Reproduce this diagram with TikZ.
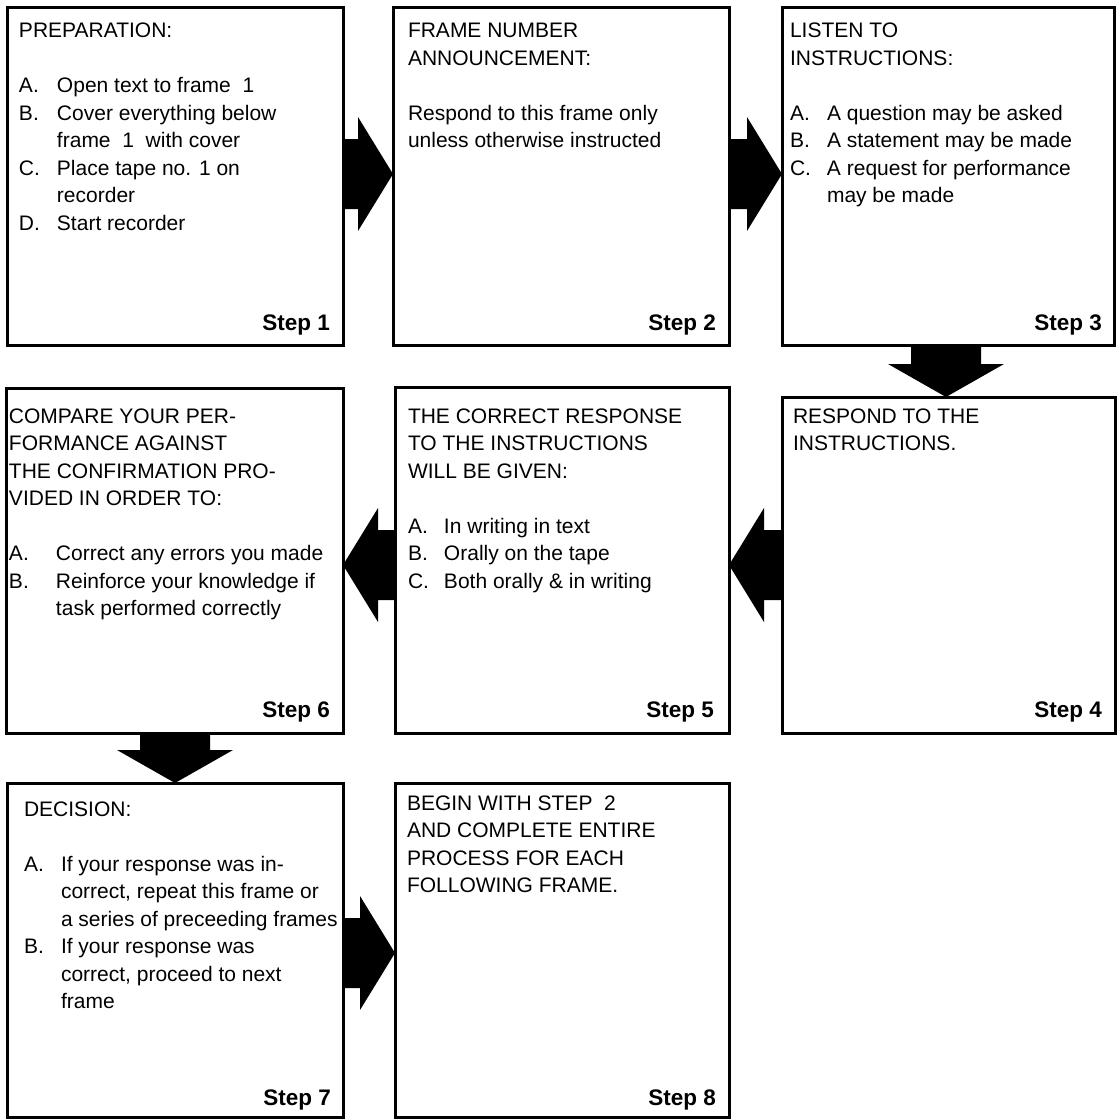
\documentclass[tikz,border=0pt]{standalone}
\usepackage{fontspec}
\setmainfont{Liberation Sans}
\usepackage{array}
\usetikzlibrary{calc}

\newcommand\bodysize{\fontsize{21}{27.5}\selectfont}
\newcommand\stepsize{\fontsize{22.5}{27}\selectfont\bfseries}

% right-pointing arrow: from box #1 to box #2 at height #3 (px)
\newcommand\arrowR[3]{%
  \fill[arr] let \p1=(#1.east), \p2=(#2.west), \p3=(0,#3) in
   (\x1,\y3+35pt) -- (\x2-35pt,\y3+35pt) -- (\x2-35pt,\y3+57pt) -- (\x2,\y3)
   -- (\x2-35pt,\y3-57pt) -- (\x2-35pt,\y3-35pt) -- (\x1,\y3-35pt) -- cycle;}
% left-pointing arrow: from box #1 to box #2 (on its left) at height #3
\newcommand\arrowL[3]{%
  \fill[arr] let \p1=(#1.west), \p2=(#2.east), \p3=(0,#3) in
   (\x1,\y3+35pt) -- (\x2+35pt,\y3+35pt) -- (\x2+35pt,\y3+57pt) -- (\x2,\y3)
   -- (\x2+35pt,\y3-57pt) -- (\x2+35pt,\y3-35pt) -- (\x1,\y3-35pt) -- cycle;}
% down-pointing arrow: from box #1 to box #2 (below) at x #3
\newcommand\arrowD[3]{%
  \fill[arr] let \p1=(#1.south), \p2=(#2.north), \p3=(#3,0) in
   (\x3-35pt,\y1) -- (\x3-35pt,\y2+33pt) -- (\x3-58pt,\y2+33pt) -- (\x3,\y2)
   -- (\x3+58pt,\y2+33pt) -- (\x3+35pt,\y2+33pt) -- (\x3+35pt,\y1) -- cycle;}

\begin{document}
\begin{tikzpicture}[x=1pt,y=-1pt,
  box/.style={draw=black, line width=3pt, rectangle, inner sep=0pt, outer sep=0pt, anchor=north west},
  txt/.style={inner sep=0pt, outer sep=0pt, anchor=base west, font=\bodysize},
  steplbl/.style={inner sep=0pt, outer sep=0pt, anchor=base east, font=\stepsize},
  arr/.style={fill=black, draw=none}]
\useasboundingbox (0,0) rectangle (1119,1120);

% boxes
\node[box, minimum width=336pt, minimum height=338pt] (b1) at (7,7) {};
\node[box, minimum width=336pt, minimum height=338pt] (b2) at (393,7) {};
\node[box, minimum width=332pt, minimum height=338pt] (b3) at (782,7) {};
\node[box, minimum width=333pt, minimum height=336pt] (b4) at (782,397) {};
\node[box, minimum width=334pt, minimum height=346pt] (b5) at (395,387) {};
\node[box, minimum width=337pt, minimum height=345pt] (b6) at (6,388) {};
\node[box, minimum width=336pt, minimum height=334pt] (b7) at (7,783) {};
\node[box, minimum width=334pt, minimum height=334pt] (b8) at (395,783) {};

% texts
\node[txt] (t1) at (19,37.5) {\begin{tabular}[t]{@{}p{38pt}@{}l@{}}
\multicolumn{2}{@{}l@{}}{PREPARATION:}\\
\\
A. & Open text to frame\ \ 1\\
B. & Cover everything below\\
 & frame\ \ 1\ \ with cover\\
C. & Place tape no. 1 on\\
 & recorder\\
D. & Start recorder
\end{tabular}};

\node[txt] (t2) at (408,37.5) {\begin{tabular}[t]{@{}l@{}}
FRAME NUMBER\\
ANNOUNCEMENT:\\
\\
Respond to this frame only\\
unless otherwise instructed
\end{tabular}};

\node[txt] (t3) at (790,37.5) {\begin{tabular}[t]{@{}p{37pt}@{}l@{}}
\multicolumn{2}{@{}l@{}}{LISTEN TO}\\
\multicolumn{2}{@{}l@{}}{INSTRUCTIONS:}\\
\\
A. & A question may be asked\\
B. & A statement may be made\\
C. & A request for performance\\
 & may be made
\end{tabular}};

\node[txt] (t4) at (793,423) {\begin{tabular}[t]{@{}l@{}}
RESPOND TO THE\\
INSTRUCTIONS.
\end{tabular}};

\node[txt] (t5) at (408,423) {\begin{tabular}[t]{@{}p{36pt}@{}l@{}}
\multicolumn{2}{@{}l@{}}{THE CORRECT RESPONSE}\\
\multicolumn{2}{@{}l@{}}{TO THE INSTRUCTIONS}\\
\multicolumn{2}{@{}l@{}}{WILL BE GIVEN:}\\
\\
A. & In writing in text\\
B. & Orally on the tape\\
C. & Both orally \& in writing
\end{tabular}};

\node[txt] (t6) at (9,423) {\begin{tabular}[t]{@{}p{47pt}@{}l@{}}
\multicolumn{2}{@{}l@{}}{COMPARE YOUR PER-}\\
\multicolumn{2}{@{}l@{}}{FORMANCE AGAINST}\\
\multicolumn{2}{@{}l@{}}{THE CONFIRMATION PRO-}\\
\multicolumn{2}{@{}l@{}}{VIDED IN ORDER TO:}\\
\\
A. & Correct any errors you made\\
B. & Reinforce your knowledge if\\
 & task performed correctly
\end{tabular}};

\node[txt] (t7) at (24,816) {\begin{tabular}[t]{@{}p{37pt}@{}l@{}}
\multicolumn{2}{@{}l@{}}{DECISION:}\\
\\
A. & If your response was in-\\
 & correct, repeat this frame or\\
 & a series of preceeding frames\\
B. & If your response was\\
 & correct, proceed to next\\
 & frame
\end{tabular}};

\node[txt] (t8) at (407,810) {\begin{tabular}[t]{@{}l@{}}
BEGIN WITH STEP\ \ 2\\
AND COMPLETE ENTIRE\\
PROCESS FOR EACH\\
FOLLOWING FRAME.
\end{tabular}};

% step labels
\node[steplbl] (s1) at (330,330) {Step 1};
\node[steplbl] (s2) at (716,330) {Step 2};
\node[steplbl] (s3) at (1102,330) {Step 3};
\node[steplbl] (s4) at (1102,717) {Step 4};
\node[steplbl] (s5) at (714,717) {Step 5};
\node[steplbl] (s6) at (330,717) {Step 6};
\node[steplbl] (s7) at (331,1105) {Step 7};
\node[steplbl] (s8) at (716,1105) {Step 8};

% arrows
\arrowR{b1}{b2}{174}
\arrowR{b2}{b3}{174}
\arrowD{b3}{b4}{946}
\arrowL{b4}{b5}{565}
\arrowL{b5}{b6}{565}
\arrowD{b6}{b7}{175}
\arrowR{b7}{b8}{953}
\end{tikzpicture}
\end{document}
